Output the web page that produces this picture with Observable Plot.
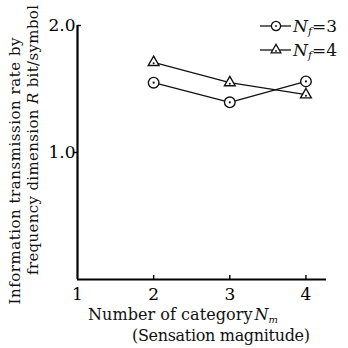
<!DOCTYPE html>
<html><head><meta charset="utf-8">
<script src="https://cdn.jsdelivr.net/npm/d3@7"></script>
<script src="https://cdn.jsdelivr.net/npm/@observablehq/plot@0.6"></script>
<style>
html,body{margin:0;padding:0;background:#fff;}
#chart{width:348px;height:348px;overflow:hidden;}
svg text{font-family:"DejaVu Serif","Liberation Serif",serif;}
</style></head><body><div id="chart"></div>
<script>
// Data
const categories = [2, 3, 4];                 // Number of category N_m
const seriesNf3 = [1.55, 1.395, 1.56];        // N_f = 3 (circle)
const seriesNf4 = [1.71, 1.55, 1.455];        // N_f = 4 (triangle)
const xTicks = [1, 2, 3, 4];
const yTicks = [1.0, 2.0];
const legendLabels = ["3", "4"];

const rows = [];
categories.forEach((c, i) => {
  rows.push({x: c, y: seriesNf3[i], s: "3"});
  rows.push({x: c, y: seriesNf4[i], s: "4"});
});
const circles = rows.filter(d => d.s === "3");
const tris = rows.filter(d => d.s === "4");

const plot = Plot.plot({
  width: 348, height: 348,
  marginLeft: 77, marginTop: 25, marginRight: 22, marginBottom: 69,
  x: {domain: [1, 4.27]},
  y: {domain: [0, 2]},
  style: {fontFamily: "DejaVu Serif", background: "#fff", color: "#000", overflow: "visible"},
  marks: [
    Plot.axisX({ticks: xTicks, tickSize: 0, tickPadding: 8, tickFormat: d => String(d), fontSize: 17, label: null}),
    Plot.axisY({ticks: yTicks, tickSize: 0, tickPadding: 2, tickFormat: d3.format(".1f"), fontSize: 17, label: null}),
    Plot.ruleX(categories, {y1: 0, y2: 0, insetTop: -4, stroke: "#000", strokeWidth: 1.4}),
    Plot.ruleY([yTicks[0]], {x1: 1, x2: 1, insetLeft: -4, stroke: "#000", strokeWidth: 1.4}),
    Plot.ruleY([yTicks[1]], {x1: 1, x2: 1, insetRight: -4, stroke: "#000", strokeWidth: 1.4}),
    Plot.ruleX([1], {stroke: "#000", strokeWidth: 2.2}),
    Plot.ruleY([0], {stroke: "#000", strokeWidth: 2.2}),
    Plot.line(rows, {x: "x", y: "y", z: "s", stroke: "#111", strokeWidth: 1.2}),
    Plot.dot(circles, {x: "x", y: "y", symbol: "circle", r: 5.3, fill: "#fff", stroke: "#111", strokeWidth: 1.4}),
    Plot.dot(tris, {x: "x", y: "y", symbol: "triangle", r: 4.0, fill: "#fff", stroke: "#111", strokeWidth: 1.4}),
    Plot.dot(circles, {x: "x", y: "y", r: 1.1, fill: "#111"}),
    Plot.dot(tris, {x: "x", y: "y", r: 1.0, dy: 1, fill: "#111"})
  ]
});
document.getElementById("chart").appendChild(plot);

const svg = d3.select(plot);
const FONT = "DejaVu Serif";

// Y axis title (two rotated lines)
function yLine(cx, cy, len, parts) {
  const t = svg.append("text")
    .attr("transform", `translate(${cx},${cy}) rotate(-90)`)
    .attr("text-anchor", "middle")
    .attr("font-family", FONT).attr("font-size", 15).attr("fill", "#111")
    .attr("textLength", len).attr("lengthAdjust", "spacing");
  parts.forEach(p => {
    const ts = t.append("tspan").text(p.t);
    if (p.i) ts.attr("font-style", "italic");
  });
}
yLine(20, 171, 267, [{t: "Information transmission rate by"}]);
yLine(38, 140, 270, [{t: "frequency dimension "}, {t: "R", i: true}, {t: " bit/symbol"}]);

// X axis title
const xl1 = svg.append("text").attr("x", 88).attr("y", 320).attr("text-anchor", "start")
  .attr("font-family", FONT).attr("font-size", 16).attr("fill", "#111")
  .attr("textLength", 190).attr("lengthAdjust", "spacing");
xl1.append("tspan").text("Number of category");
xl1.append("tspan").attr("font-style", "italic").attr("dx", 2).text("N");
xl1.append("tspan").attr("font-style", "italic").attr("font-size", 10).attr("dy", 3).text("m");
svg.append("text").attr("x", 132).attr("y", 341).attr("text-anchor", "start")
  .attr("font-family", FONT).attr("font-size", 16).attr("fill", "#111")
  .attr("textLength", 178).attr("lengthAdjust", "spacing")
  .text("(Sensation magnitude)");

// Legend
const legendY = [26, 50];
legendLabels.forEach((lab, i) => {
  const g = svg.append("g").attr("transform", `translate(0,${legendY[i]})`);
  g.append("line").attr("x1", 260).attr("x2", 291).attr("y1", 0).attr("y2", 0)
    .attr("stroke", "#111").attr("stroke-width", 1.3);
  const sym = d3.symbol().type(i === 0 ? d3.symbolCircle : d3.symbolTriangle)
    .size(i === 0 ? Math.PI * 4.6 * 4.6 : Math.PI * 3.6 * 3.6);
  g.append("path").attr("d", sym()).attr("transform", `translate(276,0)`)
    .attr("fill", "#fff").attr("stroke", "#111").attr("stroke-width", 1.3);
  g.append("circle").attr("cx", 276).attr("cy", i === 0 ? 0 : 1).attr("r", 0.9).attr("fill", "#111");
  const t = g.append("text").attr("x", 293).attr("y", 6).attr("text-anchor", "start")
    .attr("font-family", FONT).attr("font-size", 17).attr("fill", "#111");
  t.append("tspan").attr("font-style", "italic").text("N");
  t.append("tspan").attr("font-style", "italic").attr("font-size", 11).attr("dy", 3).text("f");
  t.append("tspan").attr("dy", -3).text("=" + lab);
});
</script></body></html>
